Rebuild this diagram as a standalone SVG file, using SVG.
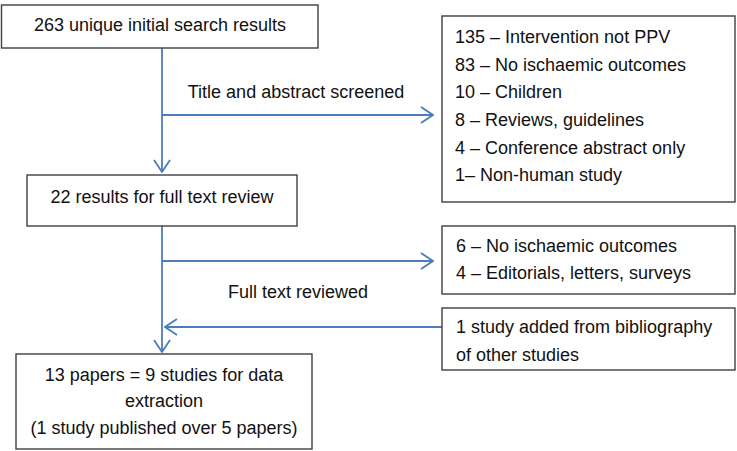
<svg xmlns="http://www.w3.org/2000/svg" width="737" height="451" viewBox="0 0 737 451">
<defs>
<style>
.box{fill:#fff;stroke:#3f3f3f;stroke-width:1.4}
.t{font-family:"Liberation Sans",Arial,sans-serif;font-size:18px;fill:#111}
.c{text-anchor:middle}
.ln{fill:none;stroke:#4a7ebb;stroke-width:1.8}
</style>
<marker id="ah" viewBox="0 0 14 18" refX="13" refY="9" markerWidth="14" markerHeight="18" markerUnits="userSpaceOnUse" orient="auto">
<path d="M1,1 L13,9 L1,17" fill="none" stroke="#4a7ebb" stroke-width="1.8"/>
</marker>
</defs>
<rect width="737" height="451" fill="#fff"/>
<g id="connectors">
<line class="ln" x1="162" y1="48" x2="162" y2="172" marker-end="url(#ah)"/>
<line class="ln" x1="162" y1="115" x2="433" y2="115" marker-end="url(#ah)"/>
<line class="ln" x1="162" y1="226" x2="162" y2="352" marker-end="url(#ah)"/>
<line class="ln" x1="162" y1="261" x2="433" y2="261" marker-end="url(#ah)"/>
<line class="ln" x1="442" y1="327" x2="165" y2="327" marker-end="url(#ah)"/>
<text class="t c" x="296" y="98">Title and abstract screened</text>
<text class="t c" x="298" y="298">Full text reviewed</text>
</g>
<g id="n1">
<rect class="box" x="1.5" y="5" width="316.5" height="43"/>
<text class="t c" x="160" y="31">263 unique initial search results</text>
</g>
<g id="n2">
<rect class="box" x="442" y="16" width="293" height="186"/>
<text class="t" x="455" y="43">135 – Intervention not PPV</text>
<text class="t" x="455" y="71">83 – No ischaemic outcomes</text>
<text class="t" x="455" y="98">10 – Children</text>
<text class="t" x="455" y="126">8 – Reviews, guidelines</text>
<text class="t" x="455" y="154">4 – Conference abstract only</text>
<text class="t" x="455" y="181">1– Non-human study</text>
</g>
<g id="n3">
<rect class="box" x="27" y="175" width="270" height="51"/>
<text class="t c" x="162" y="203">22 results for full text review</text>
</g>
<g id="n4">
<rect class="box" x="442" y="226" width="293" height="68"/>
<text class="t" x="456" y="252">6 – No ischaemic outcomes</text>
<text class="t" x="456" y="279">4 – Editorials, letters, surveys</text>
</g>
<g id="n5">
<rect class="box" x="442" y="308" width="293" height="62"/>
<text class="t" x="456" y="333">1 study added from bibliography</text>
<text class="t" x="456" y="361">of other studies</text>
</g>
<g id="n6">
<rect class="box" x="16" y="354" width="296" height="95"/>
<text class="t c" x="164" y="381">13 papers = 9 studies for data</text>
<text class="t c" x="164" y="407">extraction</text>
<text class="t c" x="164" y="434">(1 study published over 5 papers)</text>
</g>
</svg>
